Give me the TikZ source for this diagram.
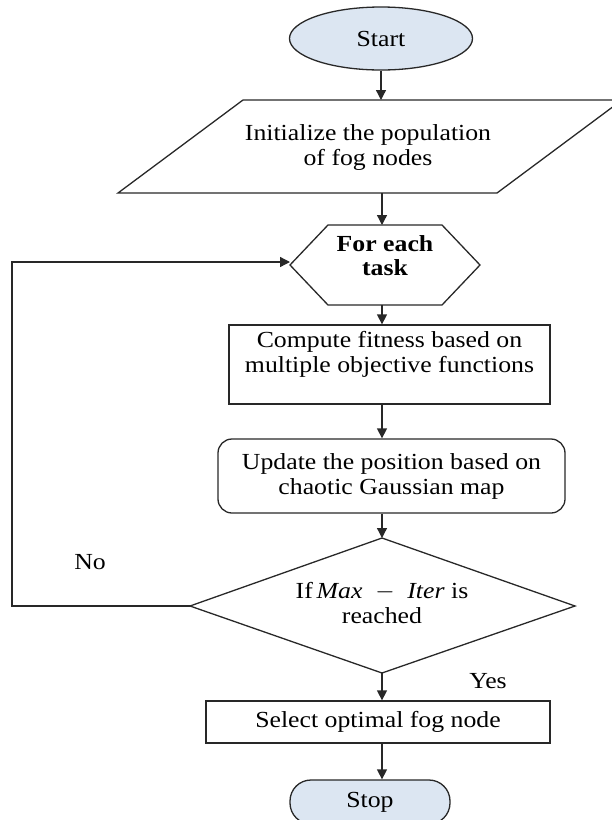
\documentclass[tikz,border=0pt]{standalone}
\usepackage{fontspec}
\setmainfont{Liberation Serif}[FakeStretch=1.12]
\usetikzlibrary{shapes.geometric,arrows.meta}
\definecolor{termfill}{RGB}{220,230,242}
\definecolor{edge}{RGB}{40,40,40}
\tikzset{
  every node/.style={font=\fontsize{23}{25}\selectfont, text=black},
  arr/.style={draw=edge, line width=1.3pt, -{Triangle[width=10pt,length=10pt]}},
  ln/.style={draw=edge, line width=1.3pt},
  shp/.style={draw=edge, line width=1.3pt},
  boxnode/.style={shp, rectangle, inner sep=0pt, align=center},
  lbl/.style={inner sep=0pt}
}
\begin{document}
\begin{tikzpicture}[x=1pt,y=-1pt]
\useasboundingbox (0,0) rectangle (611,820);
% Start
\node[shp, ellipse, fill=termfill, minimum width=183pt, minimum height=63pt, inner sep=0pt] (start) at (381,38.5) {Start};
% Initialize (parallelogram)
\draw[shp] (118,193) -- (497,193) -- (622,100) -- (243,100) -- cycle;
\node[lbl, minimum width=380pt, minimum height=93pt, align=center] (init) at (368,147) {Initialize the population\\of fog nodes};
% For each task (hexagon)
\draw[shp] (290,265) -- (328,225) -- (442,225) -- (480,265) -- (442,305) -- (328,305) -- cycle;
\node[lbl, minimum width=190pt, minimum height=80pt, align=center, font=\fontsize{23}{24}\selectfont\bfseries] (hex) at (385,256) {For each\\task};
% Compute fitness
\node[boxnode, minimum width=321pt, minimum height=79pt] (fit) at (389.5,364.5) {Compute fitness based on\\multiple objective functions\\\mbox{}};
% Update position
\node[boxnode, rounded corners=14pt, minimum width=347pt, minimum height=74pt] (upd) at (391.5,476) {Update the position based on\\chaotic Gaussian map};
% Decision (diamond)
\draw[shp] (382,538) -- (575,606) -- (382,673) -- (190,606) -- cycle;
\node[lbl, minimum width=385pt, minimum height=135pt, align=center] (dec) at (382,603) {If\,\textit{Max}\;\;\(-\)\;\;\textit{Iter} is\\reached};
% Select
\node[boxnode, minimum width=344pt, minimum height=42pt] (sel) at (378,722) {Select optimal fog node};
% Stop
\node[shp, rectangle, rounded corners=21pt, fill=termfill, minimum width=160pt, minimum height=44pt, inner sep=0pt] (stop) at (370,802) {Stop};
% Connectors
\coordinate (decl) at (190,606);
\coordinate (dect) at (382,538);
\coordinate (decb) at (382,673);
\draw[arr] (start.south) -- (381,100);
\draw[arr] (382,193) -- (382,225);
\draw[arr] (382,305) -- (fit.north -| 382,0);
\draw[arr] (fit.south -| 382,0) -- (upd.north -| 382,0);
\draw[arr] (upd.south -| 382,0) -- (dect);
\draw[arr] (decb) -- (sel.north -| 382,0);
\draw[arr] (sel.south -| 382,0) -- (stop.north -| 382,0);
\coordinate (loopc) at (12,606);
\draw[arr] (decl) -- (loopc) |- (290,262);
% Labels
\node[lbl] (no) at (90,562) {No};
\node[lbl] (yes) at (488,681) {Yes};
\end{tikzpicture}
\end{document}
